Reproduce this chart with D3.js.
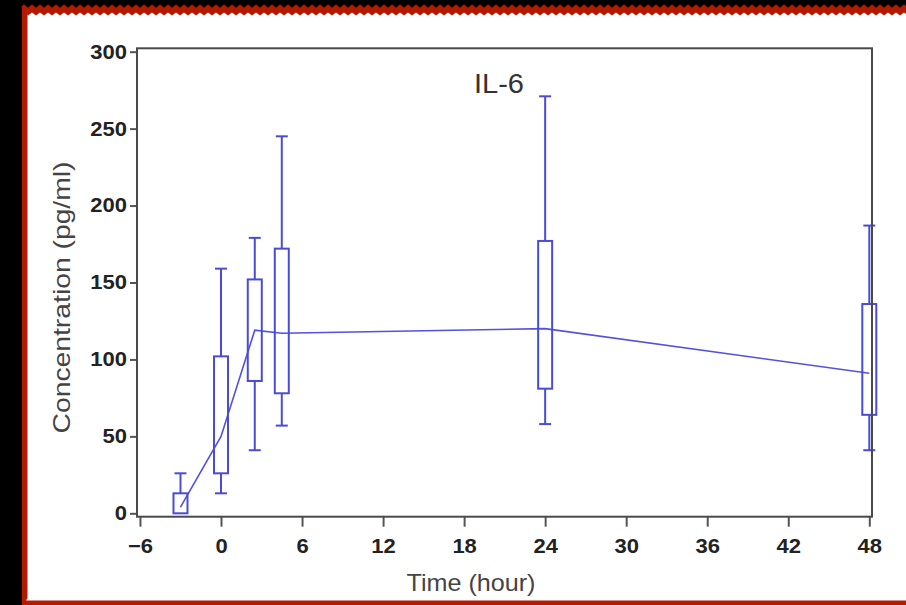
<!DOCTYPE html>
<html>
<head>
<meta charset="utf-8">
<script src="https://cdn.jsdelivr.net/npm/d3@7"></script>
<style>
  html, body { margin: 0; padding: 0; background: #000; }
  svg { display: block; }
</style>
</head>
<body>
<div class="chart"></div>
<script>
// sampling times (hours) and box-plot summaries
const times = [-3, 0, 2.5, 4.5, 24, 48];
const whiskerLow = [0, 13, 41, 57, 58, 41];
const q1 = [0, 26, 86, 78, 81, 64];
const q3 = [13, 102, 152, 172, 177, 136];
const whiskerHigh = [26, 159, 179, 245, 271, 187];
const means = [4, 50, 119, 117, 120, 91];

const xTicks = [-6, 0, 6, 12, 18, 24, 30, 36, 42, 48];
const yTicks = [0, 50, 100, 150, 200, 250, 300];

const width = 906;
const height = 605;
const blue = "#4b4bd6";
const font = "'Liberation Sans', Arial, sans-serif";

const rows = times.map((t, i) => ({
  t,
  lo: whiskerLow[i],
  q1: q1[i],
  q3: q3[i],
  hi: whiskerHigh[i],
  mean: means[i],
}));

const svg = d3
  .select(".chart")
  .append("svg")
  .attr("width", width)
  .attr("height", height);

// torn red frame on black
svg.append("rect").attr("width", width).attr("height", height).attr("fill", "#000");

function jagged(x0, y0, x1, y1, amp) {
  // closed outline with a small zigzag on the top, left and bottom edges
  const pts = [];
  for (let x = x1; x >= x0; x -= 4) pts.push([x, y0 + ((x / 4) % 2 ? amp : -amp)]);
  for (let y = y0; y <= y1; y += 4) pts.push([x0 + ((y / 4) % 2 ? amp : -amp), y]);
  for (let x = x0; x <= x1; x += 4) pts.push([x, y1 + ((x / 4) % 2 ? amp : -amp)]);
  return "M" + pts.map((p) => p.join(",")).join("L") + "Z";
}

svg.append("path").attr("d", jagged(20, 6, 912, 612, 1.8)).attr("fill", "#b31a02");
svg.append("path").attr("d", jagged(26, 14, 912, 599, 1.5)).attr("fill", "#fff");

const x = d3.scaleLinear().domain([-6.22, 48.2]).range([137, 872]);
const y = d3.scaleLinear().domain([-2.2, 302.2]).range([516.7, 48.3]);

function stretch(sel, k) {
  sel.each(function () {
    const w = this.getComputedTextLength();
    d3.select(this).attr("textLength", w * k).attr("lengthAdjust", "spacingAndGlyphs");
  });
}

svg
  .append("g")
  .attr("transform", `translate(0,${y.range()[0]})`)
  .call(d3.axisBottom(x).tickValues(xTicks).tickSize(10).tickSizeOuter(0).tickPadding(12))
  .call((g) => g.select(".domain").remove())
  .call((g) => g.selectAll("line").attr("stroke", "#555").attr("stroke-width", 2))
  .call((g) =>
    g
      .selectAll("text")
      .attr("fill", "#222")
      .style("font-family", font)
      .style("font-size", "20px")
      .style("font-weight", "bold")
      .call(stretch, 1.1)
  );

svg
  .append("g")
  .attr("transform", `translate(${x.range()[0]},0)`)
  .call(d3.axisLeft(y).tickValues(yTicks).tickSize(7).tickSizeOuter(0).tickPadding(3))
  .call((g) => g.select(".domain").remove())
  .call((g) => g.selectAll("line").attr("stroke", "#555").attr("stroke-width", 2))
  .call((g) =>
    g
      .selectAll("text")
      .attr("fill", "#222")
      .style("font-family", font)
      .style("font-size", "20px")
      .style("font-weight", "bold")
      .call(stretch, 1.1)
  );

// mean line
svg
  .append("path")
  .datum(rows)
  .attr("fill", "none")
  .attr("stroke", "#5252e0")
  .attr("stroke-width", 1.6)
  .attr("d", d3.line().x((d) => x(d.t)).y((d) => y(d.mean)));

// box plots
const boxW = 14;
const capW = 12;
const boxes = svg.append("g").attr("stroke", blue).attr("stroke-width", 2).attr("fill", "none");

boxes
  .selectAll(".box")
  .data(rows)
  .join("rect")
  .attr("class", "box")
  .attr("x", (d) => x(d.t) - boxW / 2)
  .attr("y", (d) => y(d.q3))
  .attr("width", boxW)
  .attr("height", (d) => y(d.q1) - y(d.q3));

boxes
  .selectAll(".whisker-hi")
  .data(rows)
  .join("line")
  .attr("x1", (d) => x(d.t))
  .attr("x2", (d) => x(d.t))
  .attr("y1", (d) => y(d.q3))
  .attr("y2", (d) => y(d.hi));

boxes
  .selectAll(".whisker-lo")
  .data(rows.filter((d) => d.lo < d.q1))
  .join("line")
  .attr("x1", (d) => x(d.t))
  .attr("x2", (d) => x(d.t))
  .attr("y1", (d) => y(d.q1))
  .attr("y2", (d) => y(d.lo));

boxes
  .selectAll(".cap-hi")
  .data(rows)
  .join("line")
  .attr("x1", (d) => x(d.t) - capW / 2)
  .attr("x2", (d) => x(d.t) + capW / 2)
  .attr("y1", (d) => y(d.hi))
  .attr("y2", (d) => y(d.hi));

boxes
  .selectAll(".cap-lo")
  .data(rows.filter((d) => d.lo < d.q1))
  .join("line")
  .attr("x1", (d) => x(d.t) - capW / 2)
  .attr("x2", (d) => x(d.t) + capW / 2)
  .attr("y1", (d) => y(d.lo))
  .attr("y2", (d) => y(d.lo));

// plot frame
svg
  .append("rect")
  .attr("x", x.range()[0])
  .attr("y", y.range()[1])
  .attr("width", x.range()[1] - x.range()[0])
  .attr("height", y.range()[0] - y.range()[1])
  .attr("fill", "none")
  .attr("stroke", "#4a4a4a")
  .attr("stroke-width", 2);

// titles
svg
  .append("text")
  .attr("x", 499)
  .attr("y", 93)
  .attr("text-anchor", "middle")
  .attr("fill", "#333")
  .style("font-family", font)
  .style("font-size", "27px")
  .attr("textLength", 50)
  .attr("lengthAdjust", "spacingAndGlyphs")
  .text("IL-6");

svg
  .append("text")
  .attr("x", 471)
  .attr("y", 591)
  .attr("text-anchor", "middle")
  .attr("fill", "#444")
  .style("font-family", font)
  .style("font-size", "24px")
  .attr("textLength", 129)
  .attr("lengthAdjust", "spacingAndGlyphs")
  .text("Time (hour)");

svg
  .append("text")
  .attr("transform", "translate(70,297.5) rotate(-90)")
  .attr("text-anchor", "middle")
  .attr("fill", "#444")
  .style("font-family", font)
  .style("font-size", "24px")
  .attr("textLength", 272)
  .attr("lengthAdjust", "spacingAndGlyphs")
  .text("Concentration (pg/ml)");
</script>
</body>
</html>
